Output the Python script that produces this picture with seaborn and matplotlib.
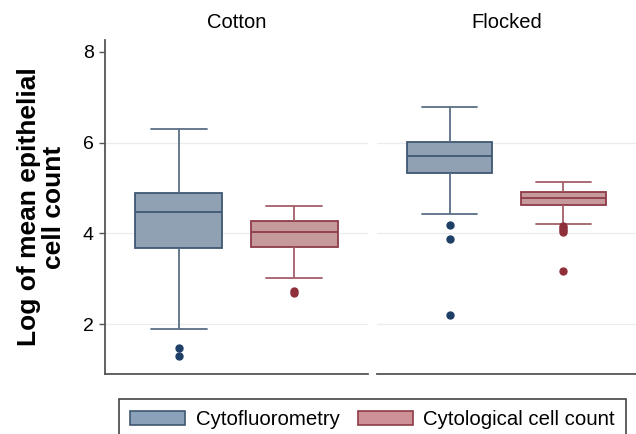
import numpy as np
import pandas as pd
import matplotlib
matplotlib.use("Agg")
import matplotlib.pyplot as plt
from matplotlib.patches import Patch
import seaborn as sns

# ==========================================
# Data (log of mean epithelial cell count)
# order: (Cotton, Cyto), (Cotton, Cytol), (Flocked, Cyto), (Flocked, Cytol)
# ==========================================
swabs = ["Cotton", "Flocked"]
methods = ["Cytofluorometry", "Cytological cell count"]
group_swab = ["Cotton", "Cotton", "Flocked", "Flocked"]
group_method = ["Cytofluorometry", "Cytological cell count",
                "Cytofluorometry", "Cytological cell count"]
whis_low = [1.90, 3.01, 4.43, 4.21]
q1 = [3.68, 3.70, 5.34, 4.62]
median = [4.46, 4.04, 5.71, 4.78]
q3 = [4.89, 4.28, 6.01, 4.90]
whis_high = [6.29, 4.60, 6.79, 5.14]
outliers = [[1.47, 1.29], [2.72, 2.68], [4.18, 3.87, 2.20],
            [4.17, 4.12, 4.07, 4.03, 3.16]]

fill_colors = {"Cytofluorometry": "#8aa1b9", "Cytological cell count": "#cd9197"}
edge_colors = {"Cytofluorometry": "#3f5771", "Cytological cell count": "#8e3b47"}
whisk_colors = {"Cytofluorometry": "#5b6f85", "Cytological cell count": "#a4606a"}
flier_colors = {"Cytofluorometry": "#1e3f66", "Cytological cell count": "#8f2f3a"}

# build a long table whose quartiles / adjacent values equal the read stats
K = 20
rows = []
for i in range(len(group_swab)):
    vals = (outliers[i] + [whis_low[i]] + [q1[i]] * K + [median[i]] * K
            + [q3[i]] * K + [whis_high[i]])
    for v in vals:
        rows.append({"swab": group_swab[i], "method": group_method[i], "value": v})
df = pd.DataFrame(rows)

# ==========================================
# Plot
# ==========================================
sns.set_style("white")
plt.rcParams["font.family"] = ["Liberation Sans", "DejaVu Sans"]
plt.rcParams["text.color"] = "black"
plt.rcParams["axes.labelcolor"] = "black"
plt.rcParams["ytick.color"] = "black"

W, H = 636, 434
fig = plt.figure(figsize=(W / 100, H / 100), dpi=100)
ax_l = fig.add_axes([105 / W, 60 / H, 263 / W, 334 / H])
ax_r = fig.add_axes([377 / W, 60 / H, 259 / W, 334 / H], sharey=ax_l)

for ax, swab in zip([ax_l, ax_r], swabs):
    sub = df[df["swab"] == swab]
    for m in methods:
        sns.boxplot(
            data=sub[sub["method"] == m], x="swab", y="value",
            hue="method", hue_order=methods, palette=fill_colors,
            dodge=True, width=0.8, gap=0.25, linewidth=1.3,
            linecolor=edge_colors[m], legend=False, ax=ax,
            boxprops=dict(edgecolor=edge_colors[m]),
            whiskerprops=dict(color=whisk_colors[m]),
            capprops=dict(color=whisk_colors[m]),
            medianprops=dict(color=edge_colors[m]),
            flierprops=dict(marker="o", markerfacecolor=flier_colors[m],
                            markeredgecolor=flier_colors[m], markersize=5),
            capwidths=0.195,
        )
    ax.set_xlim(-0.455, 0.455)
    ax.set_xticks([])
    ax.set_xlabel("")
    ax.set_ylabel("")
    ax.set_title(swab, fontsize=14.5, pad=9, color="black")
    ax.set_axisbelow(True)
    ax.yaxis.grid(True, color="#e9edf0", linewidth=0.9)
    for s in ["top", "right"]:
        ax.spines[s].set_visible(False)
    ax.spines["bottom"].set_color("#555555")
    ax.spines["bottom"].set_linewidth(1.3)

ax_l.set_ylim(0.9, 8.26)
ax_l.set_yticks([2, 4, 6, 8])
ax_l.get_ygridlines()[-1].set_visible(False)
ax_l.spines["left"].set_color("#555555")
ax_l.spines["left"].set_linewidth(1.3)
ax_l.tick_params(axis="y", left=True, length=4, width=1, color="#555555",
                 labelcolor="black", labelsize=14, pad=4)
ax_l.set_ylabel("Log of mean epithelial\ncell count", fontsize=19,
                fontweight="bold", labelpad=12, linespacing=1.05,
                color="black")

ax_r.spines["left"].set_visible(False)
ax_r.tick_params(axis="y", left=False, labelleft=False)
ax_r.get_ygridlines()[-1].set_visible(False)

handles = [Patch(facecolor=fill_colors[m], edgecolor=edge_colors[m],
                 linewidth=1.2, label=m) for m in methods]
leg = fig.legend(handles=handles, loc="upper left", ncol=2,
                 bbox_to_anchor=(119 / W, 1 - 399 / H), borderaxespad=0,
                 fontsize=14.7, frameon=True, fancybox=False, framealpha=1,
                 handlelength=2.7, handleheight=0.7, handletextpad=0.5,
                 columnspacing=0.9, borderpad=0.55)
leg.get_frame().set_edgecolor("#444444")
leg.get_frame().set_linewidth(1.2)
for t in leg.get_texts():
    t.set_color("black")

fig.savefig("out.png", dpi=100)
